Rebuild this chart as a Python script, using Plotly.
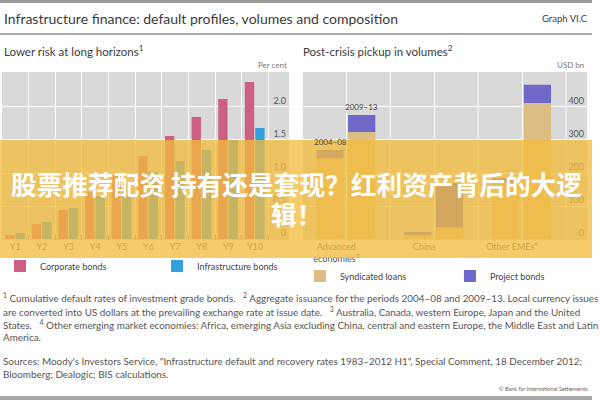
import plotly.graph_objects as go

W, H = 600, 400


def fx(p):
    return p / W


def fy(p):
    return 1 - p / H


# ---------------- data ----------------
years = ["Y1", "Y2", "Y3", "Y4", "Y5", "Y6", "Y7", "Y8", "Y9", "Y10"]
corporate_bonds = [0.06, 0.23, 0.44, 0.71, 0.98, 1.26, 1.56, 1.85, 2.12, 2.38]
infrastructure_bonds = [0.09, 0.26, 0.47, 0.65, 0.85, 1.02, 1.18, 1.35, 1.50, 1.68]
left_ticks = [0, 0.5, 1.0, 1.5, 2.0]
left_ticktext = ["0", "0.5", "1.0", "1.5", "2.0"]

regions = ["Advanced<br>economies<sup>3</sup>", "China", "Other EMEs<sup>4</sup>"]
periods = ["2004–08", "2009–13"]
loans_0408 = [245, 12, 170]
bonds_0408 = [25, 9, 15]
loans_0913 = [324, 36, 412]
bonds_0913 = [52, 134, 55]
right_ticks = [0, 100, 200, 300, 400]

# ---------------- styles ----------------
FONT = "Lato"
PINK = "#cd5f82"
BLUE = "#32a0dc"
TAN = "#dcbe84"
PURPLE = "#6e69c8"
BG = "#d9d9d9"
TXT = "#444444"
OFF_04, OFF_09, BW = -0.34, 0.02, 0.31

fig = go.Figure()

# left panel
fig.add_trace(go.Bar(x=years, y=corporate_bonds, name="Corporate bonds", marker_color=PINK,
                     offset=-0.38, width=0.35, xaxis="x", yaxis="y", legend="legend"))
fig.add_trace(go.Bar(x=years, y=infrastructure_bonds, name="Infrastructure bonds", marker_color=BLUE,
                     offset=0.01, width=0.35, xaxis="x", yaxis="y", legend="legend"))

# right panel (stacked within period, side by side per region)
fig.add_trace(go.Bar(x=regions, y=loans_0408, name="Syndicated loans", marker_color=TAN,
                     offset=OFF_04, width=BW, xaxis="x2", yaxis="y2", legend="legend2",
                     legendgroup="loans"))
fig.add_trace(go.Bar(x=regions, y=bonds_0408, base=loans_0408, name="Project bonds", marker_color=PURPLE,
                     offset=OFF_04, width=BW, xaxis="x2", yaxis="y2", legend="legend2",
                     legendgroup="bonds"))
fig.add_trace(go.Bar(x=regions, y=loans_0913, name="Syndicated loans", marker_color=TAN,
                     offset=OFF_09, width=BW, xaxis="x2", yaxis="y2", legend="legend2",
                     legendgroup="loans", showlegend=False))
fig.add_trace(go.Bar(x=regions, y=bonds_0913, base=loans_0913, name="Project bonds", marker_color=PURPLE,
                     offset=OFF_09, width=BW, xaxis="x2", yaxis="y2", legend="legend2",
                     legendgroup="bonds", showlegend=False))

for tr in fig.data:
    tr.marker.line.width = 0

# period labels above the advanced-economies bars
for off, lo, bo, lab in [(OFF_04, loans_0408, bonds_0408, periods[0]),
                         (OFF_09, loans_0913, bonds_0913, periods[1])]:
    fig.add_annotation(text=lab, xref="x2", yref="y2", x=0 + off + BW / 2, y=lo[0] + bo[0],
                       xanchor="center", yanchor="bottom", yshift=1, showarrow=False,
                       font=dict(family=FONT, size=8, color=TXT))

tickfont = dict(family=FONT, size=9, color="#555555")

ydom = [fy(240), fy(72)]
fig.update_layout(
    width=W, height=H, margin=dict(l=0, r=0, t=0, b=0),
    paper_bgcolor="white", plot_bgcolor=BG,
    barmode="overlay",
    font=dict(family=FONT, color=TXT),
    xaxis=dict(domain=[fx(2), fx(293)], type="category", categoryorder="array", categoryarray=years,
               range=[-0.5, 10.28], tickson="boundaries", showgrid=True, gridcolor="white", gridwidth=1,
               ticks="inside", ticklen=5, tickcolor="#8a8a8a", tickfont=tickfont, zeroline=False,
               showline=False, anchor="y"),
    yaxis=dict(domain=ydom, range=[-0.015, 2.53], side="right", tickvals=left_ticks, ticktext=left_ticktext,
               ticklabelposition="inside top", showgrid=True, gridcolor="white", gridwidth=1,
               zeroline=False, ticks="", tickfont=tickfont, anchor="x"),
    xaxis2=dict(domain=[fx(306.5), fx(595)], type="category", categoryorder="array", categoryarray=regions,
                range=[-0.5, 2.74], showgrid=True, gridcolor="white", gridwidth=1, ticks="",
                tickfont=tickfont, zeroline=False, showline=False, anchor="y2", ticklabelshift=-10),
    yaxis2=dict(domain=ydom, range=[-3, 506], side="right", tickvals=right_ticks,
                ticklabelposition="inside top", showgrid=True, gridcolor="white", gridwidth=1,
                zeroline=False, ticks="", tickfont=tickfont, anchor="x2"),
    legend=dict(orientation="h", x=0, xanchor="left", y=fy(266), yanchor="middle",
                font=dict(family=FONT, size=9, color=TXT), bgcolor="rgba(0,0,0,0)",
                entrywidth=112, entrywidthmode="pixels", traceorder="normal"),
    legend2=dict(orientation="h", x=fx(304), xanchor="left", y=fy(276), yanchor="middle",
                 font=dict(family=FONT, size=9, color=TXT), bgcolor="rgba(0,0,0,0)",
                 entrywidth=105, entrywidthmode="pixels", traceorder="normal"),
)

# extra gridlines at region boundaries (right panel)
for i in range(len(regions) + 1):
    fig.add_shape(type="line", xref="x2", yref="y2 domain", x0=i - 0.5, x1=i - 0.5, y0=0, y1=1,
                  line=dict(color="white", width=1), layer="below")

# rules
fig.add_shape(type="rect", xref="paper", yref="paper", x0=0, x1=1, y0=fy(3), y1=fy(0),
              fillcolor="#9a9a9a", line_width=0)
fig.add_shape(type="line", xref="paper", yref="paper", x0=0, x1=1, y0=fy(34), y1=fy(34),
              line=dict(color="#a8a8a8", width=2))
fig.add_shape(type="rect", xref="paper", yref="paper", x0=0, x1=1, y0=fy(400), y1=fy(396),
              fillcolor="#a8a8a8", line_width=0)


def note(text, x, y, size, color=TXT, anchor="left"):
    fig.add_annotation(text=text, xref="paper", yref="paper", x=fx(x), y=fy(y), xanchor=anchor,
                       yanchor="middle", showarrow=False, font=dict(family=FONT, size=size, color=color),
                       align=anchor)


note("Infrastructure finance: default profiles, volumes and composition", 2, 18, 14, "#3a3a3a")
note("Graph VI.C", 598, 19, 9.5, "#3a3a3a", "right")
note("Lower risk at long horizons<sup>1</sup>", 2, 50, 11.5, "#3a3a3a")
note("Post-crisis pickup in volumes<sup>2</sup>", 305, 50, 11.5, "#3a3a3a")
note("Per cent", 293, 65, 8, "#777777", "right")
note("USD bn", 594, 65, 8, "#777777", "right")

foot = [
    ("<sup>1</sup> Cumulative default rates of investment grade bonds.   <sup>2</sup> Aggregate issuance for the "
     "periods 2004–08 and 2009–13. Local currency issues", 297),
    ("are converted into US dollars at the prevailing exchange rate at issue date.   <sup>3</sup> Australia, "
     "Canada, western Europe, Japan and the United", 311),
    ("States.   <sup>4</sup> Other emerging market economies: Africa, emerging Asia excluding China, central "
     "and eastern Europe, the Middle East and Latin", 324),
    ("America.", 337),
    ("Sources: Moody's Investors Service, \"Infrastructure default and recovery rates 1983–2012 H1\", Special "
     "Comment, 18 December 2012;", 361),
    ("Bloomberg; Dealogic; BIS calculations.", 374),
]
for t, y in foot:
    note(t, 1, y, 9.9, "#555555")
note("© Bank for International Settlements", 598, 389, 5.5, "#666666", "right")

# overlay banner
fig.add_shape(type="rect", xref="paper", yref="paper", x0=0, x1=1, y0=fy(258), y1=fy(140),
              fillcolor="rgba(243,188,60,0.76)", line_width=0, layer="above")
cjk = dict(family="Noto Sans CJK SC", size=25.7, color="white", weight="bold")
fig.add_annotation(text="<b>股票推荐配资 持有还是套现？红利资产背后的大逻</b>", xref="paper", yref="paper",
                   x=0.5, y=fy(183), xanchor="center", yanchor="middle", showarrow=False, font=cjk)
fig.add_annotation(text="<b>辑！</b>", xref="paper", yref="paper",
                   x=0.5, y=fy(213), xanchor="center", yanchor="middle", showarrow=False, font=cjk)

fig.write_html("out.html")
